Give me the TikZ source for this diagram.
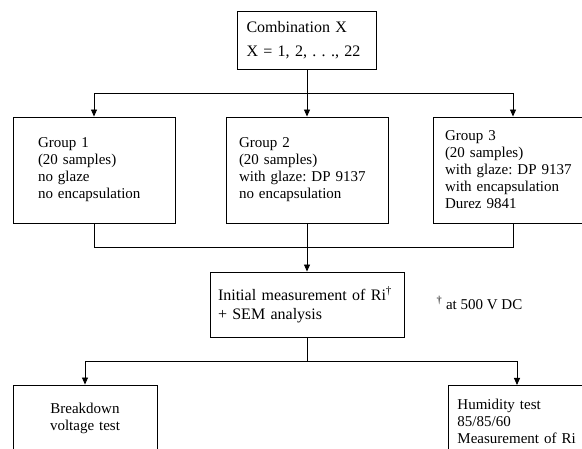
\documentclass[tikz,border=0pt]{standalone}
\usepackage{fontspec}
\setmainfont{Liberation Serif}
\usetikzlibrary{calc, arrows.meta}

\begin{document}
\begin{tikzpicture}[x = 1pt, y = -1pt,
	box/.style = {draw, rectangle, line width = 0.9pt, align = left, inner ysep = 0pt, font = \fontsize{15}{17}\selectfont},
	big/.style = {font = \fontsize{16}{17}\selectfont},
	link/.style = {line width = 0.9pt},
	arr/.style = {link, -{Triangle[length = 7pt, width = 6pt]}}]
	\useasboundingbox (0, 0) rectangle (582, 449);
	\clip (0, 0) rectangle (582, 449);

	\node[box, big, text width = 121pt, inner xsep = 9pt, minimum height = 58pt] (combo) at (307, 40){Combination X\\[7pt]X~=~1, 2, .~.~., 22};

	\node[box, text width = 112pt, inner xsep = 25pt, minimum height = 106pt] (g1) at (94, 170){Group 1\\(20 samples)\\no glaze\\no encapsulation};
	\node[box, text width = 136pt, inner xsep = 13pt, minimum height = 106pt] (g2) at (307, 170){Group 2\\(20 samples)\\with glaze:~DP 9137\\no encapsulation};
	\node[box, text width = 136pt, inner xsep = 12pt, minimum height = 106pt] (g3) at (513, 170){Group 3\\(20 samples)\\with glaze:~DP 9137\\with encapsulation\\Durez 9841};

	\node[box, big, text width = 178pt, inner xsep = 8pt, minimum height = 65pt] (init) at (307, 304.5){Initial measurement of Ri\textsuperscript{\textdagger}\\[2pt]+ SEM analysis};
	\node[anchor = west, font = \fontsize{15}{17}\selectfont] (note) at (433, 303){\textsuperscript{\textdagger}~at 500 V DC};

	\node[box, align = center, text width = 124pt, inner xsep = 10pt, minimum height = 66pt] (bd) at (85, 418){Breakdown\\voltage test};
	\node[box, text width = 134pt, inner xsep = 9pt, minimum height = 71pt, anchor = north west] (hum) at (448, 385){Humidity test\\85/85/60\\Measurement of Ri};

	% split to the three groups
	\coordinate (s1) at ($(combo.south)!0.5!(g2.north)$);
	\draw[link] (combo.south) -- (s1);
	\draw[arr] (s1) -| (g1.north);
	\draw[arr] (s1) -- (g2.north);
	\draw[arr] (s1) -| (g3.north);

	% merge
	\coordinate (m1) at ($(g2.south)!0.5!(init.north)$);
	\draw[link] (g1.south) |- (m1) -| (g3.south);
	\draw[link] (g2.south) -- (m1);
	\draw[arr] (m1) -- (init.north);

	% split to the tests
	\coordinate (s2) at ($(init.south)!0.5!(init.south |- bd.north)$);
	\draw[link] (init.south) -- (s2);
	\draw[arr] (s2) -| (bd.north);
	\draw[arr] (s2) -| ($(hum.north west) + (69, 0)$);
\end{tikzpicture}
\end{document}
